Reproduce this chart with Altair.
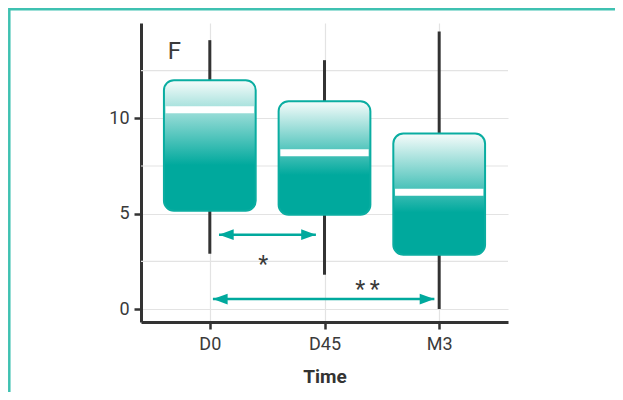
import altair as alt
import pandas as pd

# ---- data ----
times = ["D0", "D45", "M3"]
positions = [0, 1, 2]
whisker_low = [2.9, 1.8, 0.0]
q1 = [5.15, 4.95, 2.85]
medians = [10.45, 8.2, 6.13]
q3 = [12.0, 10.9, 9.2]
whisker_high = [14.1, 13.05, 14.55]

y_major = [0, 5, 10]
y_minor = [2.5, 7.5, 12.5]

arrow_y = [3.9, 0.52]
arrow_from = [0.08, 0.027]
arrow_to = [0.925, 1.958]

sig_labels = ["*", "*\u2009*"]
sig_x = [0.466, 1.375]
sig_y = [1.92, 0.64]

panel_label = ["F"]
panel_x = [-0.31]
panel_y = [13.5]

TEAL = "#00a99d"
DARK = "#333333"
TEXT = "#3a3a3a"
FONT = "Roboto"
GRID = "#e3e3e3"

box_df = pd.DataFrame({
    "time": times, "pos": positions, "lo": whisker_low, "q1": q1,
    "med": medians, "q3": q3, "hi": whisker_high,
})
minor_df = pd.DataFrame({"y": y_minor})
arrow_df = pd.DataFrame({"y": arrow_y, "x1": arrow_from, "x2": arrow_to})
sig_df = pd.DataFrame({"label": sig_labels, "x": sig_x, "y": sig_y})
panel_df = pd.DataFrame({"label": panel_label, "x": panel_x, "y": panel_y})

xs = alt.Scale(domain=[-0.6, 2.6], nice=False, zero=False)
ys = alt.Scale(domain=[-0.68, 15.0], nice=False, zero=False)

label_expr = "[" + ",".join("'%s'" % t for t in times) + "][datum.value]"
x_axis = alt.Axis(values=positions, labelExpr=label_expr, title="Time",
                  grid=True)
y_axis = alt.Axis(values=y_major, grid=True, title=None, format="d")


def X(field):
    return alt.X(field, type="quantitative", scale=xs, axis=x_axis)


def Y(field):
    return alt.Y(field, type="quantitative", scale=ys, axis=y_axis)


minor = alt.Chart(minor_df).mark_rule(color=GRID, strokeWidth=1.2).encode(
    y=Y("y"), x=alt.value(0), x2=alt.value(367)
)

base = alt.Chart(box_df).transform_calculate(
    left="datum.pos - 0.4", right="datum.pos + 0.4",
    mleft="datum.pos - 0.385", mright="datum.pos + 0.385",
)

whiskers = base.mark_rule(color=DARK, strokeWidth=3).encode(
    x=X("pos"), y=Y("lo"), y2="hi"
)

gradient = alt.LinearGradient(
    gradient="linear", x1=0, y1=0, x2=0, y2=1,
    stops=[
        alt.GradientStop(offset=0, color="#f6fcfb"),
        alt.GradientStop(offset=0.65, color=TEAL),
        alt.GradientStop(offset=1, color=TEAL),
    ],
)
boxes = base.mark_rect(
    fill=gradient, stroke="#0aada1", strokeWidth=2, cornerRadius=10
).encode(x=X("left"), x2="right", y=Y("q1"), y2="q3")

med = base.mark_rule(color="white", strokeWidth=7, strokeCap="butt").encode(
    x=X("mleft"), x2="mright", y=Y("med")
)

arrow_lines = alt.Chart(arrow_df).mark_rule(
    color=TEAL, strokeWidth=2.5
).encode(x=X("x1"), x2="x2", y=Y("y"))

left_head = alt.Chart(arrow_df).mark_point(
    shape="M0,0L2,-0.72L2,0.72Z", filled=True, opacity=1, color=TEAL,
    size=216, strokeWidth=0
).encode(x=X("x1"), y=Y("y"))

right_head = alt.Chart(arrow_df).mark_point(
    shape="M0,0L-2,-0.72L-2,0.72Z", filled=True, opacity=1, color=TEAL,
    size=216, strokeWidth=0
).encode(x=X("x2"), y=Y("y"))

sig = alt.Chart(sig_df).mark_text(
    font=FONT, fontSize=23, color=TEXT, baseline="alphabetic", align="center"
).encode(x=X("x"), y=Y("y"), text="label")

panel = alt.Chart(panel_df).mark_text(
    font=FONT, fontSize=24, color=TEXT, baseline="middle", align="center"
).encode(x=X("x"), y=Y("y"), text="label")

# decorative outer frame (top and left edges visible, others off-page)
frame = alt.Chart(pd.DataFrame({"a": [0]})).mark_rect(
    fill=None, stroke="#3fc1b1", strokeWidth=2.5
).encode(
    x=alt.value(-131.7), y=alt.value(-13.7), x2=alt.value(600), y2=alt.value(500)
)

chart = alt.layer(
    minor, whiskers, boxes, med, arrow_lines, left_head, right_head,
    sig, panel, frame
).properties(
    width=367, height=299,
    padding={"left": 133, "top": 15, "right": 107, "bottom": 70},
    autosize=alt.AutoSizeParams(type="none"),
    background="white",
).configure_view(stroke=None).configure_axis(
    labelFont=FONT, titleFont=FONT, labelFontSize=18, titleFontSize=19,
    labelColor=TEXT, titleColor=DARK, titleFontWeight="bold",
    domainColor=DARK, domainWidth=3, tickColor=DARK, tickWidth=2.5,
    tickSize=7, gridColor=GRID, gridWidth=1.2,
).configure_axisX(labelPadding=6, titlePadding=14).configure_axisY(
    labelPadding=5
)

chart.save("out.html", embed_options={"renderer": "svg", "actions": False})
